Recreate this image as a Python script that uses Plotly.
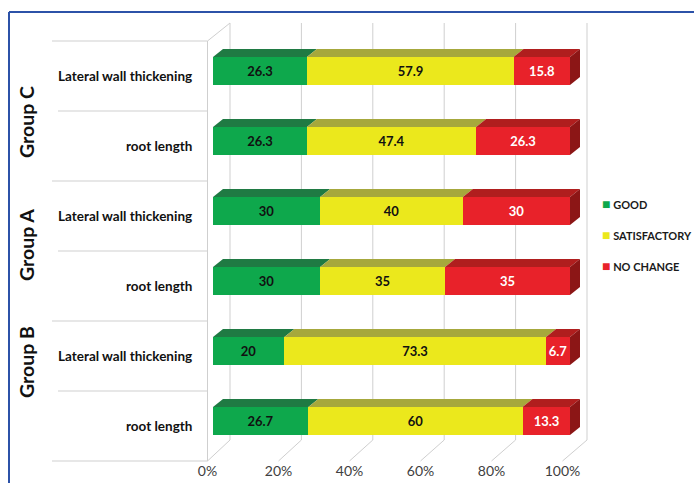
import plotly.graph_objects as go

# ---------------- data ----------------
groups = ["Group C", "Group A", "Group B"]
categories = ["Lateral wall thickening", "root length",
              "Lateral wall thickening", "root length",
              "Lateral wall thickening", "root length"]
good = [26.3, 26.3, 30, 30, 20, 26.7]
satisfactory = [57.9, 47.4, 40, 35, 73.3, 60]
no_change = [15.8, 26.3, 30, 35, 6.7, 13.3]
series_names = ["GOOD", "SATISFACTORY", "NO CHANGE"]
tick_vals = [0, 20, 40, 60, 80, 100]
tick_text = ["0%", "20%", "40%", "60%", "80%", "100%"]

# ---------------- styles ----------------
W, H = 694, 483
FONT = "Lato"
front_cols = ["#0ea84c", "#ebe81c", "#e8222a"]
top_cols = ["#1f7a43", "#a6a83c", "#b01e1e"]
side_col = "#8c1616"
text_cols = ["#111111", "#111111", "#ffffff"]

def px(x):
    return x / W

def py(y):
    return 1 - y / H

n = len(categories)
yvals = [n - 1 - i for i in range(n)]
bar_w = 0.4
X0, PPU = 213, 3.57
XMAX = 105
DX = 10 / PPU
DY = 8 / 70

fig = go.Figure()

series = [good, satisfactory, no_change]
for k, vals in enumerate(series):
    fig.add_trace(go.Bar(
        y=yvals, x=vals, orientation="h", name=series_names[k],
        width=bar_w, marker=dict(color=front_cols[k], line=dict(width=0)),
        text=[f"{v:g}" for v in vals], textposition="inside",
        insidetextanchor="middle", textangle=0, constraintext="none",
        textfont=dict(family=FONT, size=13, color=text_cols[k], weight="bold"),
        showlegend=False, hoverinfo="skip",
    ))

# 3D top faces and right side face, computed from the data
for i in range(n):
    y = yvals[i]
    start = 0.0
    for k, vals in enumerate(series):
        end = start + vals[i]
        xs = [start, end, end + DX, start + DX, start]
        ys = [y + bar_w / 2, y + bar_w / 2, y + bar_w / 2 + DY, y + bar_w / 2 + DY, y + bar_w / 2]
        fig.add_trace(go.Scatter(x=xs, y=ys, mode="lines", fill="toself",
                                 fillcolor=top_cols[k], line=dict(width=0),
                                 showlegend=False, hoverinfo="skip"))
        start = end
    xs = [start, start + DX, start + DX, start, start]
    ys = [y - bar_w / 2, y - bar_w / 2 + DY, y + bar_w / 2 + DY, y + bar_w / 2, y - bar_w / 2]
    fig.add_trace(go.Scatter(x=xs, y=ys, mode="lines", fill="toself",
                             fillcolor=side_col, line=dict(width=0),
                             showlegend=False, hoverinfo="skip"))

# invisible trace for the tick-label axis
fig.add_trace(go.Scatter(x=[0], y=[0], xaxis="x2", yaxis="y2", mode="markers",
                         marker=dict(opacity=0), showlegend=False, hoverinfo="skip"))

shapes = []
grid = "#cfcfcf"
BACK0, BPPU = 230, 3.57
FRONT0, FPPU = 207.5, 3.55
for v in tick_vals:
    bx = BACK0 + BPPU * v
    shapes.append(dict(type="line", xref="paper", yref="paper", layer="below",
                       x0=px(bx), x1=px(bx), y0=py(23), y1=py(440),
                       line=dict(color=grid, width=1)))
    fx = FRONT0 + FPPU * v
    shapes.append(dict(type="line", xref="paper", yref="paper", layer="below",
                       x0=px(fx), x1=px(bx), y0=py(461), y1=py(440),
                       line=dict(color=grid, width=1)))
shapes.append(dict(type="line", xref="paper", yref="paper", layer="below",
                   x0=px(207.5), x1=px(207.5), y0=py(41), y1=py(461),
                   line=dict(color=grid, width=1)))
shapes.append(dict(type="line", xref="paper", yref="paper", layer="below",
                   x0=px(207.5), x1=px(230), y0=py(41), y1=py(23),
                   line=dict(color=grid, width=1)))
row_h = 70
for b in range(n + 1):
    yy = 41 + row_h * b
    left = 52 if b % 2 == 0 else 58
    shapes.append(dict(type="line", xref="paper", yref="paper", layer="below",
                       x0=px(left), x1=px(207.5), y0=py(yy), y1=py(yy),
                       line=dict(color=grid, width=1.2)))
# blue frame
shapes.append(dict(type="line", xref="paper", yref="paper",
                   x0=px(9), x1=px(W + 5), y0=py(12), y1=py(12),
                   line=dict(color="#2c52a8", width=2)))
shapes.append(dict(type="line", xref="paper", yref="paper",
                   x0=px(9), x1=px(9), y0=py(12), y1=py(H + 5),
                   line=dict(color="#2c52a8", width=2)))

annotations = []
for i in range(n):
    annotations.append(dict(text=categories[i], xref="paper", yref="y",
                            x=px(194), y=yvals[i], yshift=-5, xanchor="right",
                            yanchor="middle", showarrow=False,
                            font=dict(family=FONT, size=13.5, color="#111111", weight="bold")))
group_centers = [122, 245, 362]
for g, name in enumerate(groups):
    annotations.append(dict(text=name, xref="paper", yref="paper", x=px(26),
                            y=py(group_centers[g]), textangle=-90, showarrow=False,
                            xanchor="center", yanchor="middle",
                            font=dict(family=FONT, size=19.5, color="#111111", weight="bold")))
# legend (colored square + label)
legend_y = [203, 234, 265]
for k, name in enumerate(series_names):
    annotations.append(dict(
        text=f"<span style='color:{front_cols[k]};font-size:14px'>■</span> {name}",
        xref="paper", yref="paper", x=px(600), y=py(legend_y[k]),
        xanchor="left", yanchor="middle", showarrow=False,
        font=dict(family=FONT, size=11, color="#1a1a1a", weight="bold")))

fig.update_layout(
    width=W, height=H, margin=dict(l=0, r=0, t=0, b=0, autoexpand=False),
    paper_bgcolor="white", plot_bgcolor="rgba(0,0,0,0)",
    barmode="stack", bargap=0, showlegend=False,
    xaxis=dict(domain=[px(X0), px(X0 + PPU * XMAX)], range=[0, XMAX], visible=False,
               fixedrange=True),
    yaxis=dict(domain=[py(456), py(36)], range=[-0.5, n - 0.5], visible=False),
    xaxis2=dict(domain=[px(FRONT0), px(FRONT0 + FPPU * 100)], range=[0, 100],
                anchor="y2", tickvals=tick_vals, ticktext=tick_text,
                showgrid=False, zeroline=False, showline=False, ticks="",
                ticklabelstandoff=0,
                tickfont=dict(family=FONT, size=14, color="#404040")),
    yaxis2=dict(domain=[py(461), py(41)], range=[0, 1], visible=False, anchor="x2"),
    shapes=shapes, annotations=annotations,
)

fig.write_html("out.html")
